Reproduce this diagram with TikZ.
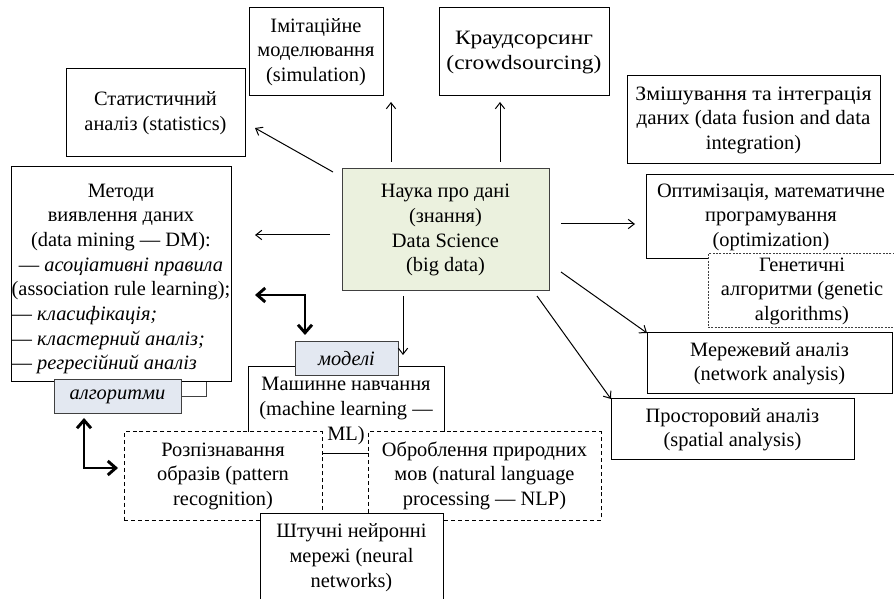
\documentclass[tikz,border=0pt]{standalone}
\usepackage{graphicx}
\usepackage{fontspec}
\setmainfont{Liberation Serif}
\usetikzlibrary{arrows.meta,backgrounds}
\definecolor{sciencefill}{HTML}{EBF1DE}
\definecolor{tagfill}{HTML}{E3E8F1}
\definecolor{edgegray}{HTML}{404040}
\newcommand\bodyfont{\fontsize{15.3}{18.5}\selectfont}
% a centred stack of lines, one line per row
\newcommand\boxlines[1]{\begin{tabular}{@{}c@{}}#1\end{tabular}}
% a line set a little wider than the font gives
\newcommand\widen[2]{\scalebox{#1}[1]{#2}}

\begin{document}
\begin{tikzpicture}[x=0.75pt,y=-0.75pt,
  spanbox/.style n args={4}{at={({(#1+#3)/2},{(#2+#4)/2})},
    minimum width={(#3-#1)*0.75pt}, minimum height={(#4-#2)*0.75pt}},
  box/.style={draw=black, line width=0.75pt, fill=white, inner sep=0pt,
    outer sep=0pt, font=\bodyfont},
  dashbox/.style={box, dash pattern=on 3pt off 2.2pt},
  finedash/.style={box, draw=edgegray, dash pattern=on 1.5pt off 1pt},
  tagbox/.style={box, draw=edgegray, fill=tagfill, font=\bodyfont\itshape},
  arr/.style={line width=0.75pt, -{Straight Barb[length=4.5pt,width=7pt]}},
  bigarr/.style={line width=2.2pt,
    {Straight Barb[length=6pt,width=10.5pt]}-{Straight Barb[length=6pt,width=10.5pt]}}]
\clip (0,0) rectangle (894,599);

% topics round the central box
\node[box, spanbox={66}{69}{245}{157}] (stat) {\boxlines{Статистичний\\аналіз (statistics)}};
\node[box, spanbox={249}{8}{383}{96}] (imit) {\boxlines{Імітаційне\\моделювання\\(simulation)}};
\node[box, spanbox={439}{8}{609}{96}] (crowd) {\widen{1.15}{\boxlines{Краудсорсинг\\(crowdsourcing)}}};
\node[box, spanbox={627}{76}{880}{164}] (fus) {\boxlines{\widen{1.07}{Змішування та інтеграція}\\\widen{1.03}{даних (data fusion and data}\\integration)}};
\node[box, fill=sciencefill, draw=edgegray, spanbox={342}{169}{549}{291}] (cen)
  {\boxlines{Наука про дані\\(знання)\\Data Science\\(big data)}};
\node[box, spanbox={646}{175}{896}{259}] (opt) {\boxlines{Оптимізація, математичне\\програмування\\(optimization)}};
\node[finedash, spanbox={708}{255}{896}{327}] (gen) {\boxlines{Генетичні\\алгоритми (genetic\\algorithms)}};
\node[box, spanbox={647}{333}{892}{394}] (net) {\boxlines{Мережевий аналіз\\(network analysis)}};
\node[box, spanbox={611}{399}{854}{460}] (spa) {\boxlines{Просторовий аналіз\\(spatial analysis)}};

% data mining block with its tag
\node[box, spanbox={11}{167}{231}{382}] (met)
  {\raisebox{-3pt}[\height][\depth]{\begin{tabular}{@{}l@{}}
   \multicolumn{1}{@{}c@{}}{Методи}\\
   \multicolumn{1}{@{}c@{}}{виявлення даних}\\
   \multicolumn{1}{@{}c@{}}{(data mining — DM):}\\
   \multicolumn{1}{@{}c@{}}{— \textit{асоціативні правила}}\\
   (association rule learning);\\
   — \textit{класифікація;}\\
   — \textit{кластерний аналіз;}\\
   — \textit{регресійний аналіз}
   \end{tabular}}};
\node[tagbox, spanbox={54}{380}{181}{414}] (alg) {алгоритми};
\begin{scope}[on background layer]
  \draw[line width=0.75pt, draw=edgegray] ([shift={(6,-44)}]alg.south west) rectangle ([shift={(25,-17)}]alg.south east);
\end{scope}

% machine learning block
\node[box, spanbox={248}{367}{444}{454}] (ml) {\boxlines{Машинне навчання\\(machine learning —\\ML)}};
\node[tagbox, spanbox={295}{342}{398}{376}] (mod) {моделі};
\node[dashbox, spanbox={124}{432}{322}{520}] (pat) {\boxlines{Розпізнавання\\образів (pattern\\recognition)}};
\node[dashbox, spanbox={368}{432}{601}{520}] (nlp) {\boxlines{Оброблення природних\\мов (natural language\\processing — NLP)}};
\node[box, spanbox={260}{513}{443}{602}] (nn) {\boxlines{Штучні нейронні\\мережі (neural\\networks)}};

% connectors from the central box
\draw[arr] ([shift={(-9,3)}]cen.north west) -- ([shift={(10,-29)}]stat.south east);
\draw[arr] ([shift={(49,-7)}]cen.north west) -- ([shift={(8,6)}]imit.south east);
\draw[arr] ([shift={(158,-7)}]cen.north west) -- ([shift={(61,6)}]crowd.south west);
\draw[arr] ([shift={(-12,5)}]cen.west) -- ([shift={(24,68)}]met.north east);
\draw[arr] ([shift={(12,-6)}]cen.east) -- ([shift={(-11,7)}]opt.west);
\draw[arr] ([shift={(12,-19)}]cen.south east) -- (net.north west);
\draw[arr] ([shift={(-12,5)}]cen.south east) -- (spa.north west);
\draw[arr] ([shift={(61,5)}]cen.south west) -- ([shift={(155,-12)}]ml.north west);

% heavy two-way links
\draw[bigarr] ([shift={(24,-87)}]met.south east) -| ([shift={(10,-7)}]mod.north west);
\draw[bigarr] ([shift={(30,4)}]alg.south west) |- ([shift={(-6,36)}]pat.north west);
\end{tikzpicture}
\end{document}
